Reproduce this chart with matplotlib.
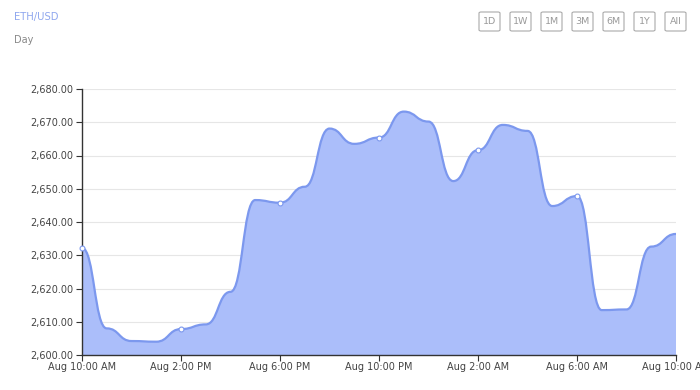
import matplotlib
matplotlib.use("Agg")
import matplotlib.pyplot as plt
from matplotlib.path import Path
from matplotlib.patches import PathPatch, FancyBboxPatch
import numpy as np

# ---- data ----
hours = list(range(25))  # hourly from Aug 10:00 AM to Aug 10:00 AM next day
prices = [2632.2, 2608.0, 2604.2, 2604.0, 2607.8, 2609.2, 2619.0, 2646.6, 2645.8,
          2650.6, 2668.1, 2663.5, 2665.4, 2673.2, 2670.2, 2652.3, 2661.6, 2669.2,
          2667.4, 2644.8, 2647.8, 2613.5, 2613.7, 2632.6, 2636.4]
tick_hours = [0, 4, 8, 12, 16, 20, 24]
tick_labels = ["Aug 10:00 AM", "Aug 2:00 PM", "Aug 6:00 PM", "Aug 10:00 PM",
               "Aug 2:00 AM", "Aug 6:00 AM", "Aug 10:00 AM"]
y_ticks = [2600, 2610, 2620, 2630, 2640, 2650, 2660, 2670, 2680]
buttons = ["1D", "1W", "1M", "3M", "6M", "1Y", "All"]
series_name = "ETH/USD"
period_name = "Day"

LINE = "#7c98ee"
FILL = "#abbefa"
TXT = "#444444"

fig = plt.figure(figsize=(7, 3.9), dpi=100)
ax = fig.add_axes([82/700, 35/390, 594/700, 266/390])
ax.set_xlim(0, 24)
ax.set_ylim(2600, 2680)


def smooth_monotone_x(xs, ys, smooth=0.5):
    """Bezier smoothing with horizontal tangents at each point (monotone in x)."""
    verts = [(xs[0], ys[0])]
    codes = [Path.MOVETO]
    n = len(xs)
    for k in range(1, n):
        x0, y0 = xs[k - 1], ys[k - 1]
        x1, y1 = xs[k], ys[k]
        dx = x1 - x0
        verts += [(x0 + dx * smooth, y0), (x1 - dx * smooth, y1), (x1, y1)]
        codes += [Path.CURVE4] * 3
    return np.array(verts, dtype=float), codes


v, c = smooth_monotone_x(hours, prices)

# area
area_verts = np.vstack([v, [[hours[-1], 2600], [hours[0], 2600], v[0]]])
area_codes = c + [Path.LINETO, Path.LINETO, Path.CLOSEPOLY]
ax.add_patch(PathPatch(Path(area_verts, area_codes), facecolor=FILL, edgecolor="none", zorder=2))
ax.add_patch(PathPatch(Path(v, c), facecolor="none", edgecolor=LINE, lw=1.6, zorder=3,
                       capstyle="round", joinstyle="round"))

# symbols at every 4th point (not the last)
mk_idx = list(range(0, 24, 4))
ax.plot([hours[i] for i in mk_idx], [prices[i] for i in mk_idx], "o", ms=3.5,
        mfc="white", mec=LINE, mew=0.8, zorder=6, ls="none", clip_on=False)

# grid & axes
ax.set_yticks(y_ticks)
ax.set_yticklabels([f"{t:,.2f}" for t in y_ticks])
ax.set_xticks(tick_hours)
ax.set_xticklabels(tick_labels)
ax.set_axisbelow(True)
ax.grid(axis="y", color="#e6e6e6", lw=0.8)
ax.grid(axis="x", visible=False)
for s in ["top", "right"]:
    ax.spines[s].set_visible(False)
for s in ["left", "bottom"]:
    ax.spines[s].set_color("#333333")
    ax.spines[s].set_linewidth(1.0)
    ax.spines[s].set_zorder(5)
ax.tick_params(axis="both", colors="#333333", labelcolor=TXT, labelsize=7, length=4, width=0.8, pad=2)
ax.tick_params(axis="x", pad=1)

# header texts
fig.text(14/700, 1 - 17/390, series_name, color="#8ea6ee", fontsize=7.2, va="center", ha="left")
fig.text(14/700, 1 - 40/390, period_name, color="#888888", fontsize=7, va="center", ha="left")

# buttons
bx0 = 479
for i, b in enumerate(buttons):
    x = bx0 + i * 31
    w = 21
    patch = FancyBboxPatch((x/700, 1 - 31/390), w/700, 19/390,
                           boxstyle="round,pad=0,rounding_size=0.003",
                           transform=fig.transFigure, facecolor="white",
                           edgecolor="#aaaaaa", lw=0.8)
    fig.patches.append(patch)
    fig.text((x + w/2)/700, 1 - 21.5/390, b, color="#999999", fontsize=6.8,
             ha="center", va="center")

fig.savefig("out.png", dpi=100)
